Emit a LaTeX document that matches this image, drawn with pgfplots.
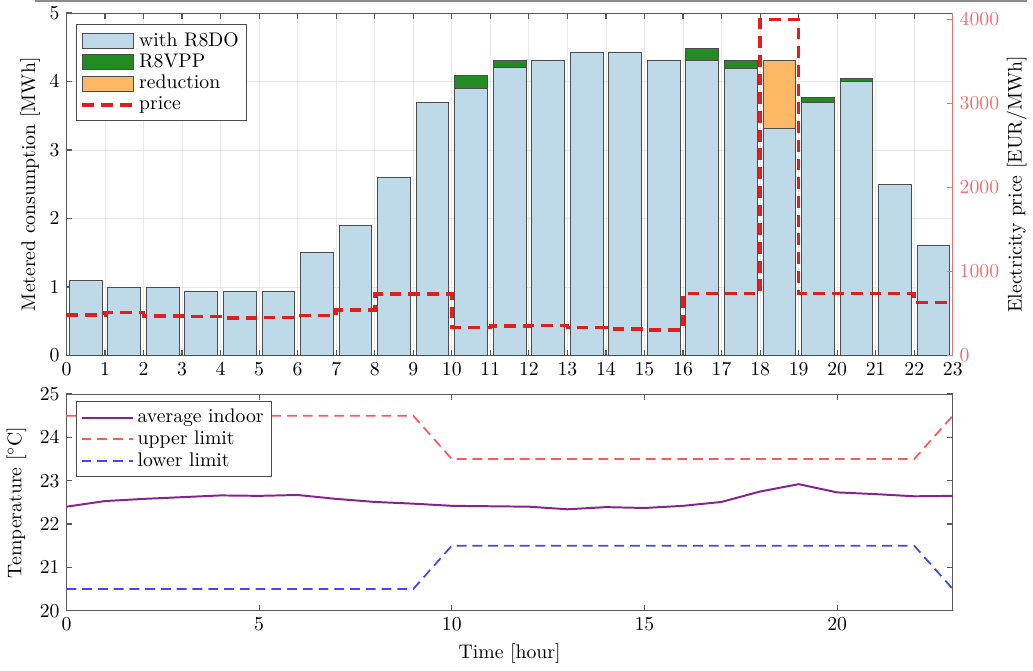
\documentclass[border=0pt]{standalone}
\usepackage{pgfplots}
\pgfplotsset{compat=1.18}

\definecolor{barblue}{RGB}{190,218,232}
\definecolor{bargreen}{RGB}{34,140,34}
\definecolor{barorange}{RGB}{252,184,100}
\definecolor{pricered}{RGB}{225,30,30}
\definecolor{axred}{RGB}{240,110,110}
\definecolor{tpurple}{RGB}{135,35,145}
\definecolor{tred}{RGB}{250,90,90}
\definecolor{tblue}{RGB}{70,70,240}

\pgfplotsset{
  barleg/.style={legend image code/.code={\draw[##1] (0pt,-3.8pt) rectangle (26pt,3.8pt);}},
  lineleg/.style={legend image code/.code={\draw[##1] (0pt,0pt) -- (26pt,0pt);}},
  every axis/.append style={scale only axis, width=450pt, xmin=0, xmax=23,
    tick align=inside, major tick length=3pt,
    axis line style={black!65}, tick style={black!65, semithick}},
}

\begin{document}
\begin{tikzpicture}
\begin{axis}[name=top, height=174pt,
    ybar stacked, bar width=0.85,
    ymin=0, ymax=5, ytick={0,...,5}, xtick={0,...,23},
    ytick pos=left,
    grid=major, grid style={black!9},
    ylabel={Metered consumption [MWh]},
    ylabel style={yshift=-2pt},
    clip=false,
    legend style={at={(0.011,0.968)}, anchor=north west, draw=black!70,
      row sep=-1.5pt, inner sep=2pt, font=\normalsize},
    legend cell align=left,
  ]
  % base consumption
  \addplot[fill=barblue, draw=black!70, line width=0.5pt, barleg] coordinates {
    (0.5,1.1) (1.5,1.0) (2.5,1.0) (3.5,0.93) (4.5,0.93) (5.5,0.93)
    (6.5,1.5) (7.5,1.9) (8.5,2.6) (9.5,3.7) (10.5,3.9) (11.5,4.2)
    (12.5,4.3) (13.5,4.42) (14.5,4.42) (15.5,4.3) (16.5,4.3) (17.5,4.19)
    (18.5,3.32) (19.5,3.7) (20.5,4.0) (21.5,2.5) (22.5,1.6)
  };
  \addlegendentry{with R8DO}
  % extra from VPP
  \addplot[fill=bargreen, draw=black!70, line width=0.5pt, barleg] coordinates {
    (0.5,0) (1.5,0) (2.5,0) (3.5,0) (4.5,0) (5.5,0)
    (6.5,0) (7.5,0) (8.5,0) (9.5,0) (10.5,0.19) (11.5,0.1)
    (12.5,0) (13.5,0) (14.5,0) (15.5,0) (16.5,0.18) (17.5,0.12)
    (18.5,0) (19.5,0.06) (20.5,0.05) (21.5,0) (22.5,0)
  };
  \addlegendentry{R8VPP}
  % reduction
  \addplot[fill=barorange, draw=black!70, line width=0.5pt, barleg] coordinates {
    (0.5,0) (1.5,0) (2.5,0) (3.5,0) (4.5,0) (5.5,0)
    (6.5,0) (7.5,0) (8.5,0) (9.5,0) (10.5,0) (11.5,0)
    (12.5,0) (13.5,0) (14.5,0) (15.5,0) (16.5,0) (17.5,0)
    (18.5,0.99) (19.5,0) (20.5,0) (21.5,0) (22.5,0)
  };
  \addlegendentry{reduction}
  \addlegendimage{lineleg, pricered, line width=1.8pt, dash pattern=on 6pt off 3.5pt}
  \addlegendentry{price}
  \draw[black!45, line width=0.8pt] (rel axis cs:-0.036,1.035) -- (rel axis cs:1.084,1.035);
\end{axis}

\begin{axis}[height=174pt,
    axis x line=none, axis y line*=right,
    ymin=0, ymax=4080, ytick={0,1000,...,4000},
    y axis line style={axred}, ytick style={axred},
    yticklabel style={text=axred},
    /pgf/number format/1000 sep={},
    ylabel={Electricity price [EUR/MWh]},
    ylabel style={yshift=3pt},
  ]
  \addplot[const plot, pricered, line width=1.8pt, dash pattern=on 6pt off 3.5pt] coordinates {
    (0,484) (1,512) (2,472) (3,465) (4,445) (5,453) (6,477) (7,543)
    (8,735) (9,735) (10,335) (11,354) (12,359) (13,335) (14,319) (15,307)
    (16,740) (17,740) (18,4000) (19,740) (20,740) (21,740) (22,630) (23,630)
  };
\end{axis}

\begin{axis}[at={(top.south west)}, anchor=north west, yshift=-19.5pt,
    height=110pt,
    ymin=20, ymax=25, ytick={20,...,25}, xtick={0,5,...,20},
    xlabel={Time [hour]}, ylabel={Temperature [$^\circ$C]},
    legend style={at={(0.011,0.968)}, anchor=north west, draw=black!70,
      row sep=-1.5pt, inner sep=2pt, font=\normalsize},
    legend cell align=left,
  ]
  \addplot[tpurple, line width=1pt, lineleg] coordinates {
    (0,22.40) (1,22.53) (2,22.58) (3,22.62) (4,22.66) (5,22.65) (6,22.67)
    (7,22.58) (8,22.51) (9,22.47) (10,22.42) (11,22.41) (12,22.40) (13,22.34)
    (14,22.39) (15,22.37) (16,22.42) (17,22.51) (18,22.75) (19,22.92)
    (20,22.73) (21,22.69) (22,22.64) (23,22.65)
  };
  \addlegendentry{average indoor}
  \addplot[tred, line width=0.9pt, dash pattern=on 5pt off 3pt, lineleg] coordinates {
    (0,24.5) (9,24.5) (10,23.5) (22,23.5) (23,24.5)
  };
  \addlegendentry{upper limit}
  \addplot[tblue, line width=0.9pt, dash pattern=on 5pt off 3pt, lineleg] coordinates {
    (0,20.5) (9,20.5) (10,21.5) (22,21.5) (23,20.5)
  };
  \addlegendentry{lower limit}
\end{axis}
\end{tikzpicture}
\end{document}
